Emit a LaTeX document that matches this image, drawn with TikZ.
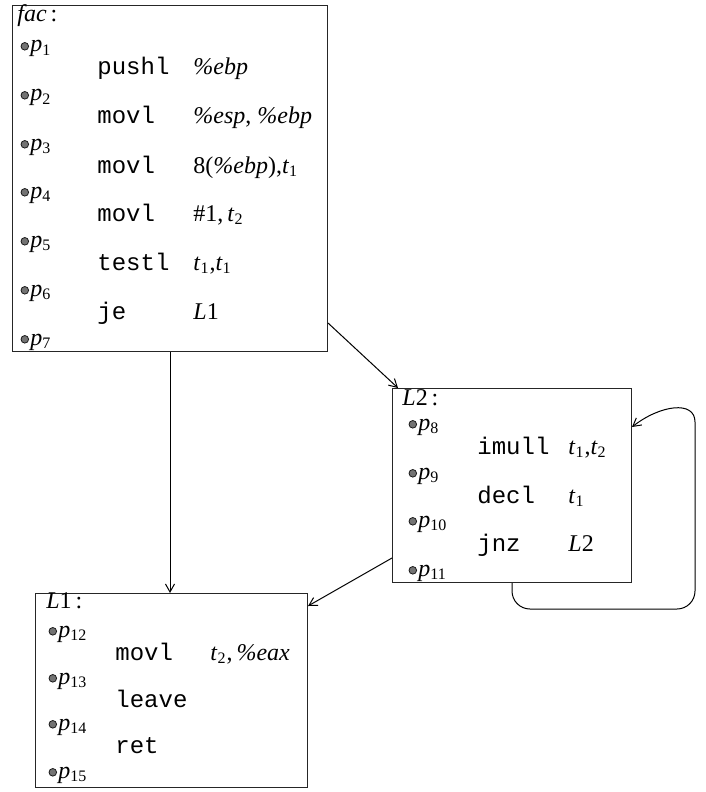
\documentclass[tikz,border=0pt]{standalone}
\usepackage{fontspec}
\setmainfont{Liberation Serif}
\setmonofont{Liberation Mono}
\usetikzlibrary{arrows.meta, positioning, calc}

\newcommand{\sv}[2]{\textit{#1}\textsubscript{#2}}

\begin{document}
\begin{tikzpicture}[
    x=0.5pt, y=-0.5pt,
    >={Straight Barb[length=4pt,width=4.5pt]},
    blk/.style={draw=black!85, line width=0.5pt, anchor=north west, inner sep=0pt},
    lbl/.style={anchor=base west, inner sep=0pt, font=\fontsize{12}{14}\selectfont},
    ins/.style={lbl, font=\fontsize{12}{14}\selectfont\ttfamily},
    pdot/.style={circle, draw=black!90, fill=black!55, line width=0.4pt, minimum size=3.8pt, inner sep=0pt, yshift=1.3pt},
    ppt/.style={lbl, label={[pdot, label distance=0.5pt]left:{}}},
    flow/.style={->, line width=0.5pt}
]
\useasboundingbox (0,0) rectangle (706,792);

% --- basic blocks ---
\node[blk, minimum width=157.5pt, minimum height=173pt] (fac) at (12,5) {};
\node[blk, minimum width=119.5pt, minimum height=97pt] (L2) at (392,388) {};
\node[blk, minimum width=136pt, minimum height=97pt] (L1) at (35,593) {};

% --- block fac ---
\node[lbl] (facname) at (17,22) {\textit{fac}\,:};
\node[ppt] (p1) at (30,52)  {\sv{p}{1}};
\node[ppt] (p2) at (30,101) {\sv{p}{2}};
\node[ppt] (p3) at (30,150) {\sv{p}{3}};
\node[ppt] (p4) at (30,198) {\sv{p}{4}};
\node[ppt] (p5) at (30,247) {\sv{p}{5}};
\node[ppt] (p6) at (30,296) {\sv{p}{6}};
\node[ppt] (p7) at (30,345) {\sv{p}{7}};

\node[ins] (pushl) at (97,75)  {pushl};
\node[ins] (movla) at (97,124) {movl};
\node[ins] (movlb) at (97,173) {movl};
\node[ins] (movlc) at (97,221) {movl};
\node[ins] (testl) at (97,270) {testl};
\node[ins] (je)    at (97,319) {je};

\node[lbl] (arg1) at (193,75)  {\textit{\%ebp}};
\node[lbl] (arg2) at (193,124) {\textit{\%esp}, \textit{\%ebp}};
\node[lbl] (arg3) at (193,173) {8(\textit{\%ebp}),\sv{t}{1}};
\node[lbl] (arg4) at (193,221) {\#1,\,\sv{t}{2}};
\node[lbl] (arg5) at (193,270) {\sv{t}{1},\sv{t}{1}};
\node[lbl] (arg6) at (193,319) {\textit{L}1};

% --- block L2 ---
\node[lbl] (L2name) at (402,405) {\textit{L}2\,:};
\node[ppt] (p8)  at (418,430) {\sv{p}{8}};
\node[ppt] (p9)  at (418,479) {\sv{p}{9}};
\node[ppt] (p10) at (418,527) {\sv{p}{10}};
\node[ppt] (p11) at (418,576) {\sv{p}{11}};

\node[ins] (imull) at (477,454) {imull};
\node[ins] (decl)  at (477,503) {decl};
\node[ins] (jnz)   at (477,551) {jnz};

\node[lbl] (arg7) at (568,454) {\sv{t}{1},\sv{t}{2}};
\node[lbl] (arg8) at (568,503) {\sv{t}{1}};
\node[lbl] (arg9) at (568,551) {\textit{L}2};

% --- block L1 ---
\node[lbl] (L1name) at (46,608) {\textit{L}1\,:};
\node[ppt] (p12) at (58,637) {\sv{p}{12}};
\node[ppt] (p13) at (58,684) {\sv{p}{13}};
\node[ppt] (p14) at (58,730) {\sv{p}{14}};
\node[ppt] (p15) at (58,778) {\sv{p}{15}};

\node[ins] (movld) at (115,660) {movl};
\node[ins] (leave) at (115,707) {leave};
\node[ins] (ret)   at (115,753) {ret};

\node[lbl] (arg10) at (210,660) {\sv{t}{2},\,\textit{\%eax}};

% --- control flow ---
\draw[flow] (fac.south) -- (fac.south |- L1.north);
\draw[flow] ($(fac.south east)+(0,-29)$) -- ($(L2.north west)+(6,0)$);
\draw[flow] ($(L2.south west)+(0,-25)$) -- ($(L1.north east)+(0,13)$);
\draw[flow, rounded corners=9pt] (L2.south) |- (695,609) -- (695,440)
    .. controls (695,400) and (660,405) .. ($(L2.north east)+(0,39)$);

\end{tikzpicture}
\end{document}
